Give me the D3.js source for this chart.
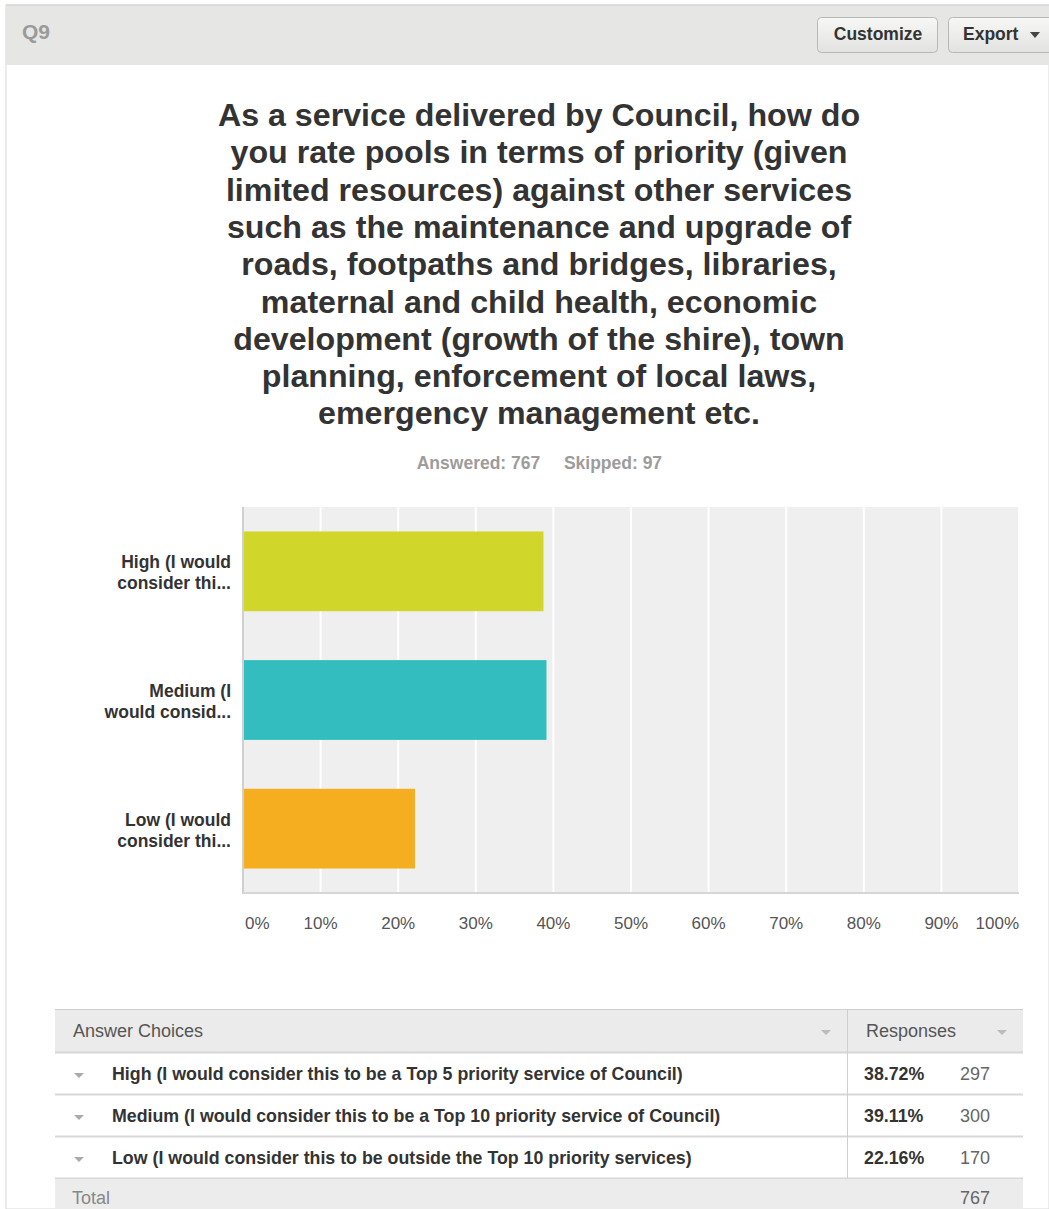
<!DOCTYPE html>
<html><head><meta charset="utf-8">
<script src="https://cdn.jsdelivr.net/npm/d3@7"></script>
<style>html,body{margin:0;padding:0;background:#fff;overflow:hidden}svg{display:block}text{font-family:"Liberation Sans",Arial,sans-serif}</style>
</head><body><svg id="c" width="1049" height="1209"></svg>
<script>
const titleLines = ["As a service delivered by Council, how do","you rate pools in terms of priority (given","limited resources) against other services","such as the maintenance and upgrade of","roads, footpaths and bridges, libraries,","maternal and child health, economic","development (growth of the shire), town","planning, enforcement of local laws,","emergency management etc."];
const categories = ["High","Medium","Low"];
const axisLabels = [["High (I would","consider thi..."],["Medium (I","would consid..."],["Low (I would","consider thi..."]];
const fullLabels = ["High (I would consider this to be a Top 5 priority service of Council)","Medium (I would consider this to be a Top 10 priority service of Council)","Low (I would consider this to be outside the Top 10 priority services)"];
const percents = [38.72, 39.11, 22.16];
const counts = [297, 300, 170];
const colors = ["#d0d62a","#33bdbf","#f5ae20"];
const tickValues = [0,10,20,30,40,50,60,70,80,90,100];
const answered = 767, skipped = 97, total = 767;

const svg = d3.select("#c");
function txt(g, x, y, s, o) {
  o = o || {};
  return g.append("text").attr("x", x).attr("y", y)
    .attr("font-size", o.size || 16).attr("font-weight", o.bold ? "bold" : "normal")
    .attr("fill", o.fill || "#333").attr("text-anchor", o.anchor || "start").text(s);
}

// card
svg.append("rect").attr("x",6).attr("y",5).attr("width",1043).attr("height",1204).attr("fill","#fff").attr("stroke","#d8d8d8");
svg.append("rect").attr("x",6).attr("y",5).attr("width",1043).attr("height",60).attr("fill","#e6e6e5");
svg.append("line").attr("x1",6).attr("x2",1049).attr("y1",5).attr("y2",5).attr("stroke","#cfcfcf");
txt(svg, 22, 39, "Q9", {size:21, bold:true, fill:"#9a9a9a"});
const grad = svg.append("defs").append("linearGradient").attr("id","bg").attr("x1",0).attr("x2",0).attr("y1",0).attr("y2",1);
grad.append("stop").attr("offset",0).attr("stop-color","#f7f7f6");
grad.append("stop").attr("offset",1).attr("stop-color","#e2e2e0");
svg.append("rect").attr("x",817.5).attr("y",17.5).attr("width",120).attr("height",35).attr("rx",4).attr("fill","url(#bg)").attr("stroke","#b8b8b8");
svg.append("rect").attr("x",948.5).attr("y",17.5).attr("width",110).attr("height",35).attr("rx",4).attr("fill","url(#bg)").attr("stroke","#b8b8b8");
txt(svg, 878, 40, "Customize", {size:17.5, bold:true, anchor:"middle"});
txt(svg, 963, 40, "Export", {size:17.5, bold:true});
svg.append("path").attr("d","M1030,32 L1040,32 L1035,38 Z").attr("fill","#444");

// title
titleLines.forEach((l,i)=> txt(svg, 539, 126 + i*37.3, l, {size:32.2, bold:true, anchor:"middle", fill:"#333"}));
txt(svg, 478.5, 469, "Answered: " + answered, {size:17.5, bold:true, fill:"#9c9c9c", anchor:"middle"});
txt(svg, 613, 469, "Skipped: " + skipped, {size:17.5, bold:true, fill:"#9c9c9c", anchor:"middle"});

// chart
const L = 243, R = 1019, T = 507, B = 893;
const x = d3.scaleLinear().domain([0,100]).range([L,R]);
const y = d3.scaleBand().domain(categories).range([T,B]).paddingInner(0.38).paddingOuter(0.19);
const cg = svg.append("g");
cg.append("rect").attr("x",L).attr("y",T).attr("width",R-L).attr("height",B-T).attr("fill","#efefef");
cg.selectAll("line.grid").data(tickValues.slice(1)).join("line").attr("class","grid")
  .attr("x1",d=>x(d)).attr("x2",d=>x(d)).attr("y1",T).attr("y2",B).attr("stroke","#fff").attr("stroke-width",2);
cg.selectAll("rect.bar").data(categories).join("rect").attr("class","bar")
  .attr("x",L).attr("y",d=>y(d)).attr("width",(d,i)=>x(percents[i])-L).attr("height",y.bandwidth()).attr("fill",(d,i)=>colors[i]);
cg.append("line").attr("x1",L).attr("x2",L).attr("y1",T).attr("y2",B+1).attr("stroke","#d0d0d0").attr("stroke-width",2);
cg.append("line").attr("x1",L).attr("x2",R).attr("y1",B).attr("y2",B).attr("stroke","#d6d6d6").attr("stroke-width",2);
tickValues.forEach((v,i)=>{
  const anchor = i===0 ? "start" : (i===tickValues.length-1 ? "end" : "middle");
  const xx = i===0 ? x(v)+2 : x(v);
  txt(cg, xx, 929, v + "%", {size:17, fill:"#555", anchor});
});
categories.forEach((c,i)=>{
  const cy = y(c) + y.bandwidth()/2;
  txt(cg, 231, cy - 3, axisLabels[i][0], {size:17.5, bold:true, anchor:"end"});
  txt(cg, 231, cy + 18, axisLabels[i][1], {size:17.5, bold:true, anchor:"end"});
});

// table
const TL = 55, TR = 1023, DV = 847;
const tg = svg.append("g");
tg.append("rect").attr("x",TL).attr("y",1009).attr("width",TR-TL).attr("height",43).attr("fill","#ebebeb");
tg.append("line").attr("x1",TL).attr("x2",TR).attr("y1",1009.5).attr("y2",1009.5).attr("stroke","#cfcfcf");
tg.append("line").attr("x1",TL).attr("x2",TR).attr("y1",1052.5).attr("y2",1052.5).attr("stroke","#d6d6d6").attr("stroke-width",2);
txt(tg, 73, 1037, "Answer Choices", {size:18, fill:"#555"});
txt(tg, 866, 1037, "Responses", {size:18, fill:"#555"});
function tri(g, cx, cy, c){ g.append("path").attr("d",`M${cx-5},${cy-2} L${cx+5},${cy-2} L${cx},${cy+3} Z`).attr("fill",c); }
tri(tg, 826, 1032, "#bbb"); tri(tg, 1002, 1032, "#bbb");
fullLabels.forEach((l,i)=>{
  const top = 1053 + i*42;
  tg.append("line").attr("x1",TL).attr("x2",TR).attr("y1",top+41.5).attr("y2",top+41.5).attr("stroke","#d8d8d8").attr("stroke-width",2);
  tri(tg, 79, top+22, "#aaa");
  txt(tg, 112, top+27, l, {size:17.8, bold:true});
  txt(tg, 864, top+27, percents[i].toFixed(2) + "%", {size:17.8, bold:true});
  txt(tg, 960, top+27, counts[i], {size:18, fill:"#666"});
});
tg.append("line").attr("x1",DV+0.5).attr("x2",DV+0.5).attr("y1",1009).attr("y2",1178).attr("stroke","#cfcfcf");
tg.append("rect").attr("x",TL).attr("y",1179).attr("width",TR-TL).attr("height",30).attr("fill","#ececec");
txt(tg, 72, 1204, "Total", {size:18, fill:"#888"});
txt(tg, 960, 1204, total, {size:18, fill:"#666"});
</script></body></html>
